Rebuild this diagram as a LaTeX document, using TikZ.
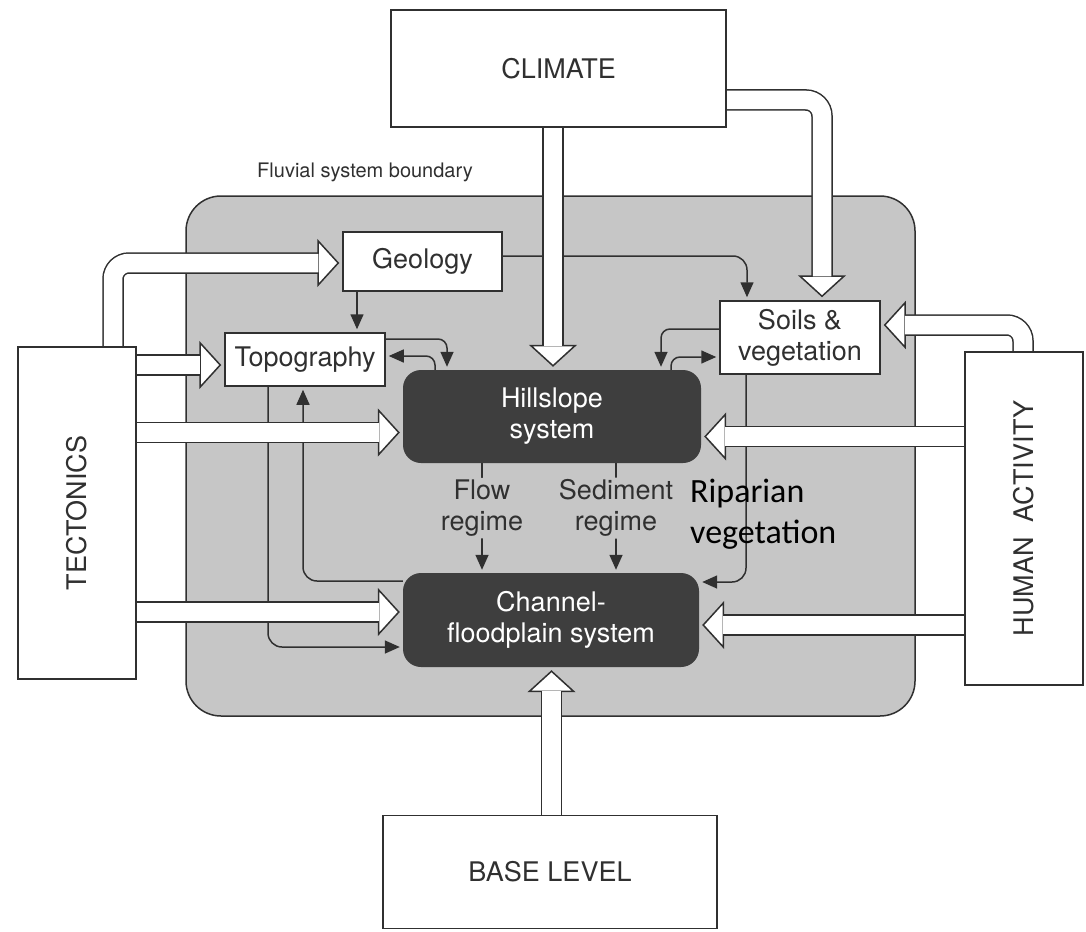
\documentclass[tikz,border=0pt]{standalone}
\usepackage{fontspec}
\usepackage{graphicx}
\setmainfont{TeX Gyre Heros}
\newfontfamily\ripfont{Carlito}
\usetikzlibrary{arrows.meta}

\definecolor{ln}{RGB}{48,48,48}
\definecolor{bnd}{RGB}{198,198,198}
\definecolor{dkbox}{RGB}{62,62,62}

\pgfdeclarelayer{bg}
\pgfdeclarelayer{mid}
\pgfsetlayers{bg,mid,main}

\newcommand{\fatarrow}[1]{\draw[bighead] #1; \draw[band] #1;}

\begin{document}
\begin{tikzpicture}[x=1pt, y=-1pt,
  txt/.style={font=\fontsize{27}{31}\selectfont, text=ln},
  box/.style={txt, draw=ln, line width=1.5pt, fill=white, inner sep=0pt, align=center},
  sysbox/.style={font=\fontsize{27}{31}\selectfont, text=white, fill=dkbox, rounded corners=18pt, inner sep=0pt, align=center},
  link/.style={draw=ln, line width=1.5pt, rounded corners=14pt, shorten >=3pt, -{Triangle[length=15pt,width=13pt]}},
  tight/.style={rounded corners=9pt},
  band/.style={draw=ln, line width=1.5pt, double=white, double distance=18.5pt, rounded corners=16pt, shorten >=24pt},
  bighead/.style={draw=white, line width=1pt, rounded corners=16pt, shorten >=3pt, -{Triangle[color=ln, fill=white, line width=1.5pt, length=22pt, width=48pt]}},
  regime/.style={txt, fill=bnd, inner sep=2pt, align=center}]

\useasboundingbox (0,0) rectangle (1086,931);

% outer drivers
\node[box, minimum width=335pt, minimum height=117pt] (clim) at (558.5,68.5) {CLIMATE};
\node[box, minimum width=334pt, minimum height=113pt] (base) at (550,872) {BASE LEVEL};
\node[box, minimum width=118pt, minimum height=332pt] (tect) at (77,513) {\rotatebox{90}{TECTONICS}};
\node[box, minimum width=118pt, minimum height=333pt] (human) at (1024,518.5) {\rotatebox{90}{HUMAN\ \ ACTIVITY}};

% inside the fluvial system
\node[box, minimum width=159pt, minimum height=59pt] (geol) at (422.5,261.5) {Geology};
\node[box, minimum width=160pt, minimum height=53pt] (topo) at (305,359.5) {Topography};
\node[box, minimum width=160pt, minimum height=73pt] (soils) at (800,337.5) {Soils \&\\vegetation};
\node[sysbox, minimum width=298pt, minimum height=93pt] (hill) at (552,416.5) {Hillslope\\system};
\node[sysbox, minimum width=296pt, minimum height=94pt] (chan) at (551,620) {Channel-\\floodplain system};
\node[anchor=west, inner sep=0pt, align=left, font=\ripfont\fontsize{34}{41}\selectfont] (ripar) at (690,514) {Riparian\\vegetation};

\begin{pgfonlayer}{bg}
\draw[draw=ln, line width=1.5pt, fill=bnd, rounded corners=35pt] (186,196) rectangle (915,716);
\node[font=\fontsize{20}{24}\selectfont, text=ln] (fluv) at (365,172) {Fluvial system boundary};
\end{pgfonlayer}

\begin{pgfonlayer}{mid}
% thin links
\draw[link] (geol.south -| 357,0) -- (topo.north -| 357,0);
\draw[link] (geol.east |- 0,256) -| (soils.north -| 747,0);
\draw[link, tight] (topo.east |- 0,339) -| (hill.north -| 447,0);
\draw[link, tight] (hill.north -| 435,0) |- (topo.east |- 0,356);
\draw[link, tight] (soils.west |- 0,329) -| (hill.north -| 661,0);
\draw[link, tight] (hill.north -| 671,0) |- (soils.west |- 0,357);
\draw[link] (soils.south -| 746,0) |- (chan.east |- 0,582);
\draw[link] (chan.west |- 0,581) -| (topo.south -| 303,0);
\draw[link] (topo.south -| 268,0) |- (chan.west |- 0,647);
\draw[link] (hill.south -| 482,0) -- node[regime, pos=.41] (flow) {Flow\\regime} (chan.north -| 482,0);
\draw[link] (hill.south -| 616,0) -- node[regime, pos=.41] (sedi) {Sediment\\regime} (chan.north -| 616,0);
% block arrows
\fatarrow{(clim.south -| 553,0) -- (hill.north -| 553,0)}
\fatarrow{(clim.east |- 0,100) -| (soils.north -| 822,0)}
\fatarrow{(tect.north -| 113,0) |- (geol.west |- 0,263)}
\foreach \y/\tg in {365/topo, 432.5/hill, 612/chan}
  {\fatarrow{(tect.east |- 0,\y) -- (\tg.west |- 0,\y)}}
\fatarrow{(human.north -| 1023,0) |- (soils.east |- 0,325)}
\foreach \y/\tg in {436.5/hill, 625/chan}
  {\fatarrow{(human.west |- 0,\y) -- (\tg.east |- 0,\y)}}
\fatarrow{(base.north -| 551.5,0) -- (chan.south -| 551.5,0)}
\end{pgfonlayer}
\end{tikzpicture}
\end{document}
